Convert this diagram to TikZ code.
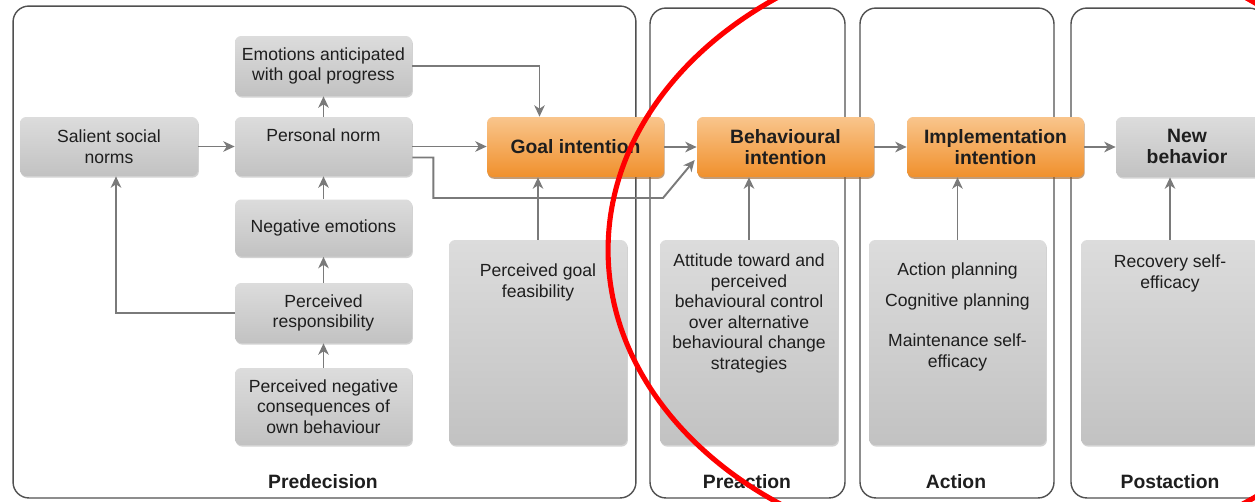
\documentclass[tikz,border=0pt]{standalone}
\usepackage{fontspec}
\setmainfont{Liberation Sans}
\usetikzlibrary{arrows.meta,shadows,calc}
\definecolor{arrc}{HTML}{7A7A7A}
\definecolor{panelc}{HTML}{505050}
\definecolor{txtc}{HTML}{1E1E1E}
\definecolor{gtop}{HTML}{DCDCDC}
\definecolor{gbot}{HTML}{C2C2C2}
\definecolor{otop}{HTML}{F9C58C}
\definecolor{obot}{HTML}{F0902C}
\definecolor{oshadow}{HTML}{9A5A1E}
\tikzset{
  phase/.style={draw=panelc, line width=0.8pt, rounded corners=9pt, fill=white},
  gbox/.style={rounded corners=3.5pt, top color=gtop, bottom color=gbot, draw=none,
    drop shadow={shadow xshift=0.5pt, shadow yshift=-0.9pt, opacity=0.35},
    font=\fontsize{10}{11.7}\selectfont, text=txtc, align=center, inner sep=0pt},
  obox/.style={rounded corners=3.5pt, top color=otop, bottom color=obot, draw=none,
    drop shadow={shadow xshift=0.4pt, shadow yshift=-1pt, opacity=0.6, fill=oshadow},
    font=\fontsize{11}{12}\selectfont\bfseries, text=txtc, align=center, inner sep=0pt},
  btxt/.style={font=\fontsize{10}{11.7}\selectfont, text=txtc, align=center, inner sep=0pt, anchor=base},
  phlabel/.style={font=\fontsize{11}{12}\selectfont\bfseries, text=txtc, inner sep=0pt, anchor=base},
  conn/.style={draw=arrc, line width=1.1pt, -{Stealth[length=6.5pt,width=6pt,inset=2pt]}},
}
\begin{document}
\begin{tikzpicture}[x=0.02cm,y=-0.02cm]
\useasboundingbox (0,0) rectangle (1255,501);
\fill[white] (0,0) rectangle (1255,501);
\clip (0,0) rectangle (1255,501);

% phase panels
\node[phase, minimum width=12.46cm, minimum height=9.84cm] (ph1) at (324.5,252) {};
\node[phase, minimum width=3.9cm, minimum height=9.8cm] (ph2) at (747.5,253) {};
\node[phase, minimum width=3.88cm, minimum height=9.8cm] (ph3) at (957,253) {};
\node[phase, minimum width=3.88cm, minimum height=9.8cm] (ph4) at (1168,253) {};
\node[phlabel] (l1) at (323,488) {Predecision};
\node[phlabel] (l2) at (747,488) {Preaction};
\node[phlabel] (l3) at (956,488) {Action};
\node[phlabel] (l4) at (1170,488) {Postaction};

% gray boxes predecision
\node[gbox, minimum width=3.54cm, minimum height=1.2cm] (emo) at (323.5,66) {Emotions anticipated\\with goal progress};
\node[gbox, minimum width=3.56cm, minimum height=1.18cm] (sal) at (109,146.5) {Salient social\\norms};
\node[gbox, minimum width=3.54cm, minimum height=1.18cm] (pn) at (323.5,146.5) {};
\node[btxt] (pnt) at (323.5,141) {Personal norm};
\node[gbox, minimum width=3.54cm, minimum height=1.14cm] (neg) at (323.5,228) {Negative emotions};
\node[gbox, minimum width=3.54cm, minimum height=1.2cm] (resp) at (323.5,313) {Perceived\\responsibility};
\node[gbox, minimum width=3.54cm, minimum height=1.54cm] (cons) at (323.5,406.5) {Perceived negative\\consequences of\\own behaviour};
\node[gbox, minimum width=3.56cm, minimum height=4.1cm] (feas) at (538,342.5) {};
\node[btxt] (feast) at (538,297.5) {Perceived goal\\feasibility};

% orange / main boxes
\node[obox, minimum width=3.54cm, minimum height=1.2cm] (goal) at (575.5,147) {Goal intention};
\node[obox, minimum width=3.54cm, minimum height=1.2cm] (beh) at (785.5,147) {Behavioural\\intention};
\node[obox, minimum width=3.54cm, minimum height=1.2cm] (impl) at (995.5,147) {Implementation\\intention};
\node[gbox, minimum width=2.92cm, minimum height=1.2cm] (new) at (1189,147) {};
\node[btxt, font=\fontsize{11}{12}\selectfont\bfseries] (newt) at (1187,163.5) {New\\behavior};

% lower boxes
\node[gbox, minimum width=3.56cm, minimum height=4.1cm] (prebox) at (749,342.5) {};
\node[btxt] (pret) at (749,369.5) {Attitude toward and\\perceived\\behavioural control\\over alternative\\behavioural change\\strategies};
\node[gbox, minimum width=3.54cm, minimum height=4.1cm] (actbox) at (957.5,342.5) {};
\node[btxt] (actt) at (957.5,367.5) {Action planning\\[5.5pt]Cognitive planning\\[11.5pt]Maintenance self-\\efficacy};
\node[gbox, minimum width=3.56cm, minimum height=4.1cm] (postbox) at (1170,342.5) {};
\node[btxt] (postt) at (1170,288.5) {Recovery self-\\efficacy};

% connectors
\coordinate (k1) at (663,198);
\draw[conn] (sal.east) -- (pn.west);
\draw[conn] (pn.north) -- (emo.south);
\draw[conn] (neg.north) -- (pn.south);
\draw[conn] (resp.north) -- (neg.south);
\draw[conn] (cons.north) -- (resp.south);
\draw[conn] (resp.west) -| ($(sal.south)+(7,0)$);
\draw[conn] (pn.east) -- (pn.east -| goal.west);
\draw[conn] (emo.east) -| ($(goal.north)+(-36,0)$);
\draw[conn] ($(pn.east)+(0,11)$) -- ++(21,0) |- (k1) -- ($(beh.west)+(-2,13)$);
\draw[conn] (feas.north) -- (feas.north |- goal.south);
\draw[conn] (goal.east) -- (beh.west);
\draw[conn] (beh.east) -- (impl.west);
\draw[conn] (impl.east) -- (new.west);
\draw[conn] (prebox.north) -- (prebox.north |- beh.south);
\draw[conn] (actbox.north) -- (actbox.north |- impl.south);
\draw[conn] (postbox.north) -- (postbox.north |- new.south);

% red annotation ellipse
\coordinate (ec) at (1011.5,250);
\draw[red, line width=2.9pt] (ec) ellipse [x radius=8.07cm, y radius=6.2cm];
\end{tikzpicture}
\end{document}
